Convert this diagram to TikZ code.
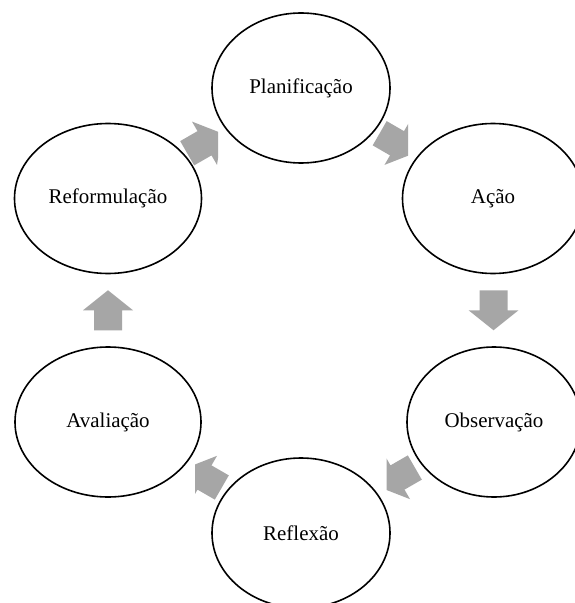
\documentclass[tikz,border=0pt]{standalone}
\usepackage{fontspec}
\setmainfont{Liberation Serif}
\usetikzlibrary{shapes.geometric,calc}
\definecolor{arrowgray}{HTML}{A6A6A6}
\tikzset{
  stage/.style={ellipse, draw=black, line width=1.6bp, fill=white, inner sep=0pt,
    minimum height=150bp, font=\fontsize{21}{25}\selectfont},
  cyc/.pic={\fill[arrowgray] (-20,-14) -- (0,-14) -- (0,-25) -- (20,0) -- (0,25) -- (0,14) -- (-20,14) -- cycle;}
}
\begin{document}
\begin{tikzpicture}[x=1bp,y=-1bp]
\clip (0,0) rectangle (575,603);
\fill[white] (0,0) rectangle (575,603);
% node positions (ellipses drawn after the arrows)
\coordinate (cplan) at (301,88);
\coordinate (cacao) at (493,198.5);
\coordinate (cobs) at (494,422);
\coordinate (cref) at (301,533);
\coordinate (caval) at (108,422);
\coordinate (cform) at (108,198.5);
% arrows
\begin{scope}
  \clip (0,0) rectangle (408,603);
  \pic[rotate=-30] at ($(cplan)!0.5!(cacao)$) {cyc};
\end{scope}
\pic[rotate=-90] at ($(cacao)!0.5!(cobs)$) {cyc};
\begin{scope}
  \clip (386.5,0) rectangle (575,603);
  \pic[rotate=210] at ($(cobs)!0.5!(cref)$) {cyc};
\end{scope}
\begin{scope}
  \clip (195,0) rectangle (575,603);
  \pic[rotate=150] at ($(cref)!0.5!(caval)$) {cyc};
\end{scope}
\pic[rotate=90] at ($(caval)!0.5!(cform)$) {cyc};
\begin{scope}
  \clip (0,0) rectangle (218,603);
  \pic[rotate=30] at ($(cform)!0.5!(cplan)$) {cyc};
\end{scope}
% stages
\node[stage, minimum width=178bp] (plan) at (cplan) {Planificação};
\node[stage, minimum width=181bp] (acao) at (cacao) {Ação};
\node[stage, minimum width=174bp] (obs) at (cobs) {Observação};
\node[stage, minimum width=178bp] (ref) at (cref) {Reflexão};
\node[stage, minimum width=186bp] (aval) at (caval) {Avaliação};
\node[stage, minimum width=187bp] (form) at (cform) {Reformulação};
\end{tikzpicture}
\end{document}
